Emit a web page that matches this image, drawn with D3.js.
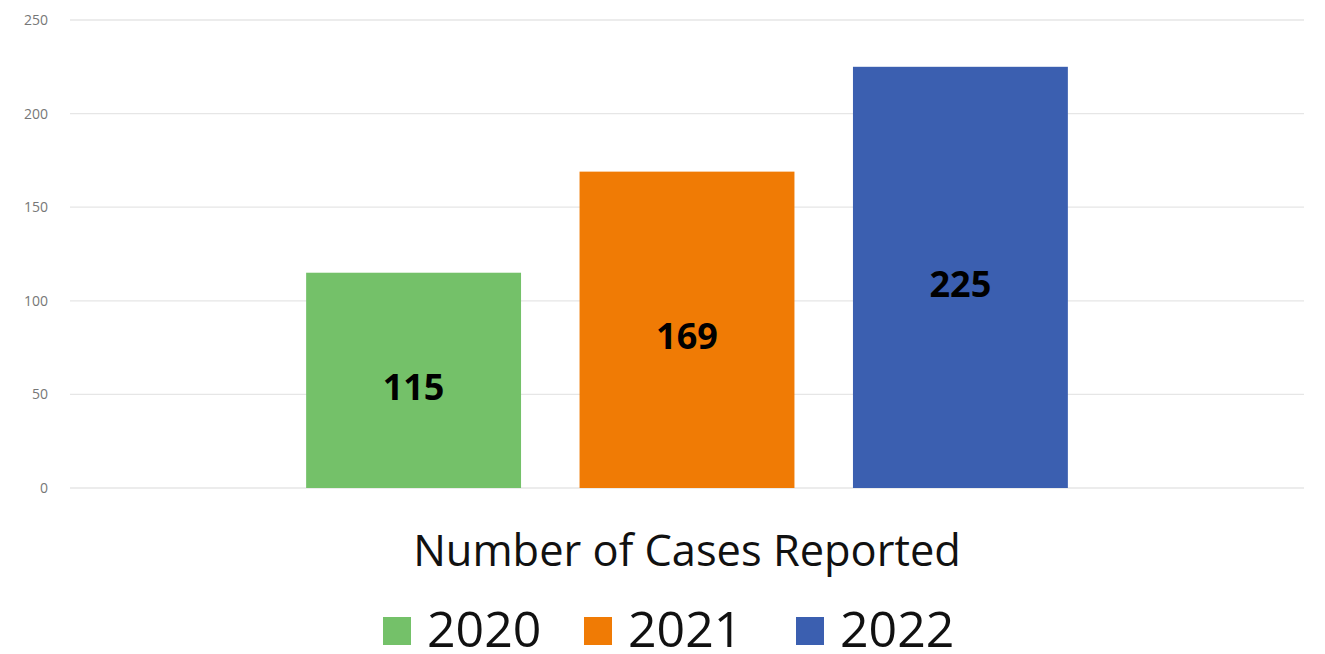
<!DOCTYPE html>
<html><head><meta charset="utf-8">
<script src="https://cdn.jsdelivr.net/npm/d3@7"></script>
<style>body{margin:0;background:#fff;}svg{display:block;}</style>
</head><body>
<script>
const categories = ["Number of Cases Reported"];
const seriesNames = ["2020", "2021", "2022"];
const seriesValues = [115, 169, 225];
const seriesColors = ["#74c169", "#f07b05", "#3b5fb0"];
const yTicks = [0, 50, 100, 150, 200, 250];

(function () {
const W = 1325, H = 654;
const svg = d3.select("body").append("svg").attr("width", W).attr("height", H);
const mLeft = 70, mRight = 1304, mTop = 20, mBottom = 488;

const y = d3.scaleLinear().domain([0, 250]).range([mBottom, mTop]);
const x0 = d3.scaleBand().domain(categories).range([mLeft, mRight]).paddingInner(0).paddingOuter(0.31);
const x1 = d3.scaleBand().domain(seriesNames).range([0, x0.bandwidth()]).paddingInner(0.214).paddingOuter(0);

// gridlines
svg.append("g").selectAll("line").data(yTicks).join("line")
  .attr("x1", mLeft).attr("x2", mRight)
  .attr("y1", d => y(d)).attr("y2", d => y(d))
  .attr("stroke", "#e6e6e6").attr("stroke-width", 1.3);

// y axis labels
const yAxis = d3.axisLeft(y).tickValues(yTicks).tickSize(0).tickPadding(0);
const ga = svg.append("g").attr("transform", `translate(48,0)`).call(yAxis);
ga.select(".domain").remove();
ga.selectAll("text").attr("font-family", "Open Sans, sans-serif").attr("font-size", 14).attr("fill", "#777");

// bars
const g = svg.append("g").attr("transform", `translate(${x0(categories[0])},0)`);
g.selectAll("rect").data(seriesValues).join("rect")
  .attr("x", (d, i) => x1(seriesNames[i]))
  .attr("width", x1.bandwidth())
  .attr("y", d => y(d))
  .attr("height", d => y(0) - y(d))
  .attr("fill", (d, i) => seriesColors[i]);

g.selectAll("text.val").data(seriesValues).join("text").attr("class", "val")
  .attr("x", (d, i) => x1(seriesNames[i]) + x1.bandwidth() / 2)
  .attr("y", d => (y(d) + y(0)) / 2 + 7)
  .attr("dy", "0.35em")
  .attr("text-anchor", "middle")
  .attr("font-family", "Open Sans, sans-serif").attr("font-weight", "bold")
  .attr("font-size", 36).attr("fill", "#000")
  .text(d => d);

// category label
svg.append("text").attr("x", x0(categories[0]) + x0.bandwidth() / 2).attr("y", 566)
  .attr("text-anchor", "middle").attr("font-family", "Open Sans, sans-serif")
  .attr("font-size", 43.4).attr("fill", "#111").text(categories[0]);

// legend
const legendX = [383, 584, 796];
const lg = svg.append("g");
seriesNames.forEach((s, i) => {
  lg.append("rect").attr("x", legendX[i]).attr("y", 617).attr("width", 28).attr("height", 28).attr("fill", seriesColors[i]);
  lg.append("text").attr("x", legendX[i] + 44).attr("y", 647)
    .attr("font-family", "Open Sans, sans-serif").attr("font-size", 50).attr("fill", "#111").text(s);
});
})();
</script>
</body></html>
